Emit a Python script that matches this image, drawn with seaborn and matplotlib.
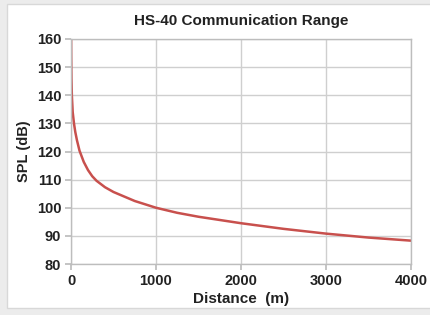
import numpy as np
import pandas as pd
import matplotlib
matplotlib.use('Agg')
import matplotlib.pyplot as plt
import seaborn as sns
from matplotlib.patches import Rectangle

# values
distance_m = [1, 2, 5, 10, 20, 35, 50, 70, 100, 150, 200, 250, 300, 400, 500,
              750, 1000, 1250, 1500, 2000, 2500, 3000, 3500, 4000]
spl_db = [160, 154, 146, 140, 134, 130, 127, 124, 120.3, 116.3, 113.4, 111.2, 109.6,
          107.3, 105.6, 102.4, 100, 98.2, 96.8, 94.5, 92.5, 90.8, 89.4, 88.3]
x_ticks = [0, 1000, 2000, 3000, 4000]
y_ticks = [80, 90, 100, 110, 120, 130, 140, 150, 160]

sns.set_theme(style='whitegrid')
plt.rcParams['font.family'] = ['Liberation Sans', 'DejaVu Sans']

df = pd.DataFrame({'Distance (m)': distance_m, 'SPL (dB)': spl_db})

fig = plt.figure(figsize=(4.3, 3.15), dpi=100, facecolor='#ececec')
fig.patches.append(Rectangle((7 / 430, 7 / 315), 1, 1 - 11 / 315,
                             transform=fig.transFigure, facecolor='white',
                             edgecolor='#d8d8d8', lw=1, zorder=-10))
ax = fig.add_axes([71 / 430, 1 - 264 / 315, 340 / 430, 225 / 315])

sns.lineplot(data=df, x='Distance (m)', y='SPL (dB)', ax=ax,
             color='#c8504d', linewidth=1.8, sort=False)

ax.set_xlim(0, 4000)
ax.set_ylim(80, 160)
ax.set_xticks(x_ticks)
ax.set_yticks(y_ticks)
ax.grid(True, color='#cfcfcf', linewidth=1)
for s in ax.spines.values():
    s.set_color('#bdbdbd')
    s.set_linewidth(1)
ax.tick_params(axis='both', which='major', length=4, color='#bdbdbd',
               labelsize=10.5, pad=3, left=True, bottom=True)
for lbl in ax.get_xticklabels() + ax.get_yticklabels():
    lbl.set_fontweight('bold')
    lbl.set_color('#222222')

ax.set_xlabel('Distance  (m)', fontsize=11, fontweight='bold', color='#222222', labelpad=3)
ax.set_ylabel('SPL (dB)', fontsize=10.5, fontweight='bold', color='#222222', labelpad=4)
ax.set_title('HS-40 Communication Range', fontsize=11, fontweight='bold',
             color='#222222', pad=10)

fig.savefig('out.png', dpi=100, facecolor=fig.get_facecolor())
